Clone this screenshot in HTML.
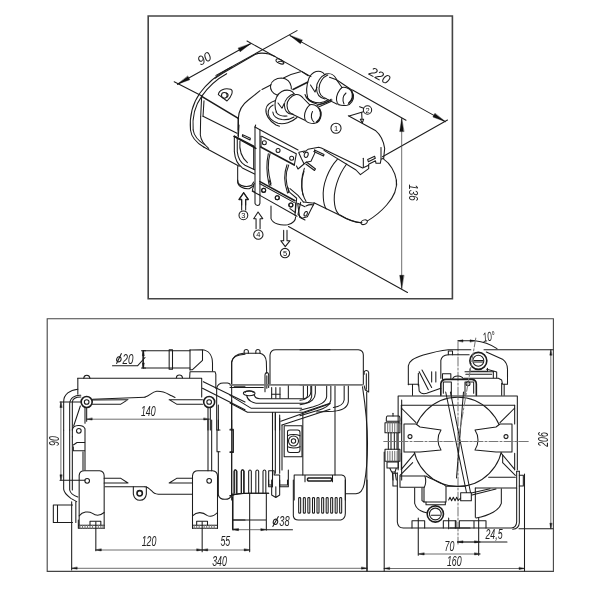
<!DOCTYPE html>
<html><head><meta charset="utf-8"><title>Heater dimensions</title>
<style>
html,body{margin:0;padding:0;background:#fff;}
body{width:600px;height:600px;overflow:hidden;font-family:"Liberation Sans",sans-serif;}
svg{display:block;filter:grayscale(1)}
svg path,svg line,svg circle,svg ellipse,svg rect,svg polyline{fill:none;stroke:#1c1c1c;stroke-width:1.05;vector-effect:non-scaling-stroke;stroke-linecap:round;stroke-linejoin:round}
svg .f{fill:#111;stroke:#111;stroke-width:.4}
svg .w{fill:#fff}
svg .k{fill:#222}
svg .g{stroke:#777}
svg .d{stroke:#4a4a4a;stroke-width:.8}
svg .h{stroke-width:1.6}
svg .t{font-family:"Liberation Sans",sans-serif;font-style:italic;fill:#222;stroke:none}
svg .n{font-family:"Liberation Sans",sans-serif;font-style:normal;fill:#111;stroke:none}
</style></head><body>
<svg width="600" height="600" viewBox="0 0 600 600">
<rect x="0" y="0" width="600" height="600" style="fill:#fff;stroke:none"/>

<rect x="148.2" y="16" width="304.2" height="282.8" style="stroke:#444;stroke-width:1.6;stroke-linejoin:miter"/>
<rect x="47.2" y="318.7" width="506.2" height="252.7" style="stroke:#444;stroke-width:1.1;stroke-linejoin:miter"/>

<path class="" d="M177.5,84.2 L250.5,43.8"/>
<path class="f" d="M177.5,84.2 L189.8,79.7 L187.9,76.2 Z"/>
<path class="f" d="M250.5,43.8 L240.1,51.8 L238.2,48.3 Z"/>
<path d="M174.2,81.7 L202,96"/>
<path d="M247,41 L311,76.6"/>
<path d="M216,75.4 L297,30.6"/>
<text class="t" transform="translate(206.5,62.5) rotate(-29) scale(0.95,1)" font-size="13" text-anchor="middle">90</text>
<g transform="translate(160,30) scale(0.166667)">

<path d="M183,600 C176,520 196,440 240,378 C282,322 340,272 398,240 L430,222"/>
<path d="M199,600 C192,525 210,452 252,395 C292,338 348,290 400,262"/>
<path d="M330,290 C360,268 400,245 420,234 L570,147 C590,138 620,136 654,144 L690,159"/>
<path class="h" d="M250,398 L470,530"/>
<path d="M470,600 L470,530 C472,480 492,448 530,420 L600,364"/>
<path d="M250,398 L244,520"/>
<path d="M264,425 L258,518"/>
<path d="M350,388 C352,362 388,345 424,356 C442,364 432,396 402,426 Z"/>
<circle cx="386" cy="392" r="17"/>
<path d="M398,378 C410,380 412,395 404,402"/>

</g>
<g transform="translate(262,65) scale(0.100000)">

<path d="M150,300 C105,285 80,245 85,205 C92,160 140,130 195,130 C250,132 285,170 292,215 L293,240"/>
<path d="M215,130 C270,100 330,80 385,68"/>
<path d="M0,245 L92,198"/>
<path class="h" d="M310,245 L455,172"/>
<path d="M145,470 C125,430 125,365 145,322 C165,275 220,240 280,255 C300,262 315,275 322,290"/>
<path d="M160,380 L200,432 L222,385"/>
<path d="M322,288 C270,300 222,350 224,402 C226,450 252,488 300,492"/>
<path d="M338,296 C290,308 248,355 250,404 C252,448 272,480 312,492"/>
<path d="M338,296 C370,290 395,310 415,335 L478,398"/>
<path d="M305,492 L428,553"/>
<path d="M478,398 C450,420 425,470 425,510 C425,540 430,550 440,560"/>
<path d="M478,398 C530,385 585,430 590,490 C592,545 560,585 520,585 C485,585 455,575 440,560"/>
<path class="h" d="M575,440 C600,480 590,540 545,572"/>
<path d="M505,465 C485,500 490,545 520,572"/>
<path d="M135,355 C90,370 45,400 40,440 C32,490 70,560 140,600 L175,612"/>
<path d="M112,400 C80,415 58,445 62,490 C70,530 110,565 160,582 C220,598 300,570 350,525"/>
<path d="M108,470 C110,510 150,540 200,546 C250,550 290,540 320,520"/>
<path d="M140,470 C160,500 200,515 250,510"/>

</g>
<g transform="translate(302,60) scale(0.100000)">

<path d="M0,118 L62,158"/>
<path d="M110,420 C80,410 65,400 58,380 C42,330 45,250 70,180 C90,130 140,105 185,115 C205,120 220,135 228,148"/>
<path d="M85,250 L130,320 L150,272"/>
<path d="M240,140 C190,160 145,220 145,280 C145,340 180,380 230,390"/>
<path d="M258,150 C210,170 170,225 170,285 C170,335 195,370 240,385"/>
<path d="M240,140 C280,128 322,150 345,192"/>
<path d="M275,172 L345,198 L400,275"/>
<path d="M345,198 L498,300"/>
<path d="M240,386 L352,442"/>
<path d="M400,275 C365,300 340,360 345,400 C348,425 355,440 370,448"/>
<path d="M400,275 C450,265 505,300 515,350 C520,400 490,445 450,452 C420,456 390,455 370,448"/>
<path class="h" d="M495,310 C518,350 505,402 468,432"/>
<path d="M440,330 C410,355 400,400 420,440"/>
<path d="M30,345 C40,385 80,420 150,440 C200,448 255,425 292,392"/>
<path d="M45,370 C70,410 130,430 180,428 C215,425 245,410 262,398"/>
<path d="M150,455 L300,400"/>
<path d="M165,470 L290,415"/>

</g>
<path class="" d="M290.0,35.6 L445.2,121.6"/>
<path class="f" d="M290.0,35.6 L300.4,43.7 L302.3,40.2 Z"/>
<path class="f" d="M445.2,121.6 L432.9,117.0 L434.8,113.5 Z"/>
<text class="t" transform="translate(377.5,79.5) rotate(29) scale(1.0,1)" font-size="13" text-anchor="middle">220</text>
<path d="M447.5,120 L382.5,156.7"/>
<path d="M352.5,90 L406,120.2"/>
<path class="d" d="M401.7,118.6 L401.7,288.3"/>
<path class="f" d="M401.7,118.6 L399.7,131.6 L403.7,131.6 Z"/>
<path class="f" d="M401.7,288.3 L399.7,275.3 L403.7,275.3 Z"/>
<text class="t" transform="translate(408.5,192.5) rotate(90) scale(0.76,1)" font-size="13" text-anchor="middle">136</text>
<path d="M288.5,226.5 L407.5,292.5"/>
<ellipse cx="280" cy="61.5" rx="4.3" ry="2" transform="rotate(25 280 61.5)"/>
<path d="M277.5,62.5 C279,60.5 282,61 283.5,62.5"/>
<g transform="translate(340,85) scale(0.166667)">

<circle cx="165" cy="150" r="25"/>
<path d="M55,186 L140,160"/>
<path d="M118,130 L142,140"/>
<path d="M130,165 L132,205 M122,205 L142,205 L134,228 Z"/>
<path d="M50,185 L215,275 C245,300 262,340 268,380 L262,440"/>
<path d="M262,440 L246,446 L242,470 L216,470 L213,455 L172,476 L172,500"/>
<path d="M140,440 L140,492"/>
<path d="M246,375 L246,442"/>
<path d="M166,447 L208,428 L212,440 L170,460 Z"/>
<path d="M262,445 C300,470 330,520 338,570 L340,600"/>

</g>
<text class="n" x="367.5" y="112.6" font-size="7.5" text-anchor="middle">2</text>
<g transform="translate(340,130) scale(0.166667)">

<path d="M338,300 C345,350 325,400 280,450 C245,490 205,522 165,545"/>
<ellipse cx="145" cy="553" rx="20" ry="13" transform="rotate(-20 145 553)"/>
<path d="M125,556 C80,555 40,535 0,510"/>

</g>
<g transform="translate(160,100) scale(0.166667)">

<path d="M183,180 C188,225 222,258 262,282"/>
<path d="M199,180 C204,215 232,246 268,268"/>
<path d="M244,100 L242,210 C245,240 262,265 292,290"/>
<path d="M262,282 L475,398"/>
<path d="M258,98 L462,200"/>
<path d="M470,110 L468,215"/>
<path class="h" d="M445,218 L575,290"/>
<path d="M470,180 L470,110"/>

</g>
<g transform="translate(225,125) scale(0.133333)">

<path d="M225,15 L225,505 L205,490 L215,455"/>
<path d="M262,35 L262,522"/>
<path d="M225,15 L262,35 L335,75 L548,188"/>
<path d="M275,85 L535,215 L520,300"/>
<path class="h" d="M268,165 L520,300"/>
<path d="M270,85 L270,165"/>
<circle cx="295" cy="133" r="15"/><circle cx="398" cy="192" r="15"/><circle cx="500" cy="250" r="15"/>
<path class="h" d="M262,425 L525,568"/>
<path d="M262,440 L520,582"/>
<circle cx="290" cy="490" r="15"/><circle cx="392" cy="545" r="15"/><circle cx="495" cy="600" r="15"/>
<path d="M338,215 C318,280 322,360 345,440 L332,452"/>
<path d="M325,215 C308,290 312,370 330,445"/>
<path d="M478,300 C448,370 455,440 482,500 L468,510"/>
<path d="M465,298 C438,370 445,440 468,505"/>
<path d="M595,325 C568,400 572,470 585,525"/>
<path class="h" d="M70,85 L215,160"/>
<path d="M70,85 L70,200 C75,262 100,300 130,322 L222,368"/>
<path d="M92,100 L92,200 C98,252 120,285 150,302 L222,335"/>
<path d="M112,120 C106,180 122,242 168,282"/>
<path d="M215,160 L215,330"/>
<path d="M95,312 L95,430 C100,462 140,482 182,478 C200,470 215,455 220,438"/>
<path d="M132,72 L190,100 L188,112 L130,84 Z"/>
<path d="M140,510 L105,560 L125,560 L125,600 M140,510 L175,560 L155,560 L155,600"/>
<path d="M105,0 L100,90"/>
<path d="M230,0 L225,15"/>

</g>
<g transform="translate(290,100) scale(0.133333)">

<circle cx="345" cy="212" r="38"/>
<path d="M100,395 L135,370 L215,355 L235,360 L545,510 L590,490"/>
<path d="M255,378 L495,525 L528,560 L590,515"/>

</g>
<text class="n" x="336" y="131" font-size="7.5" text-anchor="middle">1</text>
<g transform="translate(290,150) scale(0.133333)">

<path d="M355,70 C290,140 240,260 250,360 C252,400 260,425 272,442"/>
<path d="M425,105 C360,190 320,310 335,410 C340,445 352,470 368,485"/>
<path d="M105,160 C80,230 80,320 120,385"/>
<path d="M180,395 L370,487 C420,515 480,540 540,546"/>
<path d="M100,390 L182,400 L160,440 L130,500 L90,512 L60,482 L80,392"/>
<ellipse cx="118" cy="478" rx="11" ry="18" transform="rotate(25 118 478)"/>
<path d="M0,290 L60,340 L100,390 M0,320 L50,362 L40,470 L0,440"/>
<path d="M120,420 C140,410 160,408 175,412"/>

</g>
<g transform="translate(225,180) scale(0.133333)">

<path d="M140,95 L105,145 L125,145 L125,225 M140,95 L175,145 L155,145 L155,225"/>
<circle cx="138" cy="265" r="33"/>
<path d="M248,240 L215,290 L233,290 L233,365 M248,240 L283,290 L263,290 L263,365"/>
<circle cx="250" cy="410" r="35"/>
<path d="M440,378 L440,455 L418,455 L452,500 L488,455 L465,455 L465,378"/>
<circle cx="450" cy="548" r="35"/>
<path d="M225,95 L225,175 C232,196 258,196 262,175 L262,110"/>
<path d="M205,85 L262,115 L540,272"/>
<circle cx="290" cy="78" r="15"/><circle cx="392" cy="133" r="15"/><circle cx="493" cy="188" r="15"/>
<path d="M530,170 L525,265"/>
<path d="M345,195 L345,290 C360,330 420,342 470,335 C510,325 530,300 530,275"/>
<path d="M545,175 L600,200 M560,280 L600,300 M545,175 L560,280"/>
<path d="M95,0 L100,25 C120,50 170,56 200,40 L215,15"/>
<path d="M330,0 L345,40 M470,55 L480,95"/>

</g>
<text class="n" x="243.4" y="218" font-size="7.5" text-anchor="middle">3</text>
<text class="n" x="258.3" y="237.4" font-size="7.5" text-anchor="middle">4</text>
<text class="n" x="285" y="255.8" font-size="7.5" text-anchor="middle">5</text>
<g transform="translate(280,135) scale(0.100000)">

<path d="M188,178 L215,238 L240,288 L262,272 L310,262 L350,176 L345,150"/>
<path d="M165,310 L180,340 L240,290"/>
<ellipse cx="262" cy="198" rx="19" ry="27" transform="rotate(20 262 198)"/>
<path d="M345,150 L440,195 L435,210 L338,166"/>
<path d="M265,270 L355,340 L345,355 L258,290"/>
<path d="M190,172 L245,160"/>

</g>
<g transform="translate(45,330) scale(0.166667)">

<path d="M197,290 L197,385 M232,290 C235,266 266,266 270,290"/>
<circle class="h" cx="250" cy="432" r="33"/><circle cx="250" cy="432" r="14"/>
<path d="M197,355 C150,360 112,385 112,430 L112,600"/>
<path d="M215,392 C180,390 150,406 148,442 L148,600"/>
<path d="M164,600 L164,432 C166,412 190,402 215,402"/>
<path d="M90,432 L215,432"/>
<path d="M285,415 L600,404"/>
<path d="M285,445 L455,445 L498,418 L285,420"/>
<path d="M250,465 L250,548"/>
<path d="M212,456 L172,576 M240,465 L240,560"/>
<path d="M405,215 L555,215 L600,165"/>

</g>
<text class="t" transform="translate(128.0,363.6) rotate(0) scale(0.7,1)" font-size="14" text-anchor="middle">20</text>
<ellipse cx="118.9" cy="359.3" rx="2.2" ry="2.6" transform="rotate(18 118.9 359.3)"/><path d="M116.6,363.4 L121.4,353.6"/>
<path class="" d="M143.3,350.8 L143.3,368.0"/>
<path class="f" d="M143.3,350.8 L142.4,355.8 L144.2,355.8 Z"/>
<path class="f" d="M143.3,368.0 L142.4,363.0 L144.2,363.0 Z"/>
<path d="M141.5,350.8 L145.5,350.8 M141.5,368 L145.5,368"/>
<path d="M77.8,378.3 L201.7,378.3 L201.7,397"/>
<g transform="translate(45,420) scale(0.166667)">

<circle cx="203" cy="65" r="14"/>
<path d="M164,100 L164,58 C170,28 226,24 240,52 L240,300"/>
<path d="M170,150 L192,135 L238,135 M170,160 L170,185 L238,185"/>
<path d="M112,60 L112,415 C114,440 135,455 155,470 L190,490"/>
<path d="M148,60 L148,420 C152,440 170,452 197,462"/>
<path d="M164,100 L164,420 M228,190 L228,300"/>
<circle cx="253" cy="365" r="14"/>
<path d="M205,650 L205,332 C207,312 220,305 236,305 L328,305 C345,307 355,318 355,336 L355,650"/>
<path d="M355,350 L455,350 L498,378 L355,378"/>
<path d="M360,400 L600,400"/>
<path d="M90,362 L240,362"/>
<circle class="h" cx="568" cy="440" r="16"/>
<path d="M530,400 L530,445 C535,470 552,482 570,482 C590,482 605,468 608,445 L608,400"/>

</g>
<path class="d" d="M60.9,402.0 L60.9,480.3"/>
<path class="f" d="M60.9,402.0 L59.9,407.5 L61.9,407.5 Z"/>
<path class="f" d="M60.9,480.3 L59.9,474.8 L61.9,474.8 Z"/>
<text class="t" transform="translate(59.0,441.0) rotate(-90) scale(0.63,1)" font-size="14" text-anchor="middle">90</text>
<g transform="translate(45,480) scale(0.166667)">

<path d="M50,150 L165,150 M50,255 L165,255 M50,150 L50,255 M75,150 L75,255"/>
<path d="M200,290 L355,290 M200,272 L355,272 M200,240 L200,290"/>
<path class="g" d="M210,272 L210,290 M225,272 L225,290 M240,272 L240,290 M255,272 L255,290 M270,272 L270,290 M285,272 L285,290 M320,272 L320,290 M335,272 L335,290 M348,272 L348,290"/>
<path d="M270,270 L270,248 L335,248 L335,270"/>
<path d="M205,215 C225,190 260,185 285,200 C305,215 330,215 355,195"/>
<path d="M305,250 L305,425"/>
<path d="M160,130 L160,540 M185,130 L185,255"/>

</g>
<g transform="translate(145,330) scale(0.166667)">

<path d="M-12,125 L270,125 M-12,228 L270,228 M-12,125 L-12,228"/>
<path d="M145,118 L145,236 L165,236 L165,118 Z"/>
<path d="M270,118 L270,240"/>
<path d="M270,120 L340,118 C380,120 405,150 405,200 L405,246"/>
<path d="M345,120 L345,182 L285,238 L270,238"/>
<path d="M270,250 L420,250 L425,265 L425,350 M270,250 L268,287"/>
<path d="M188,287 C190,265 222,265 225,287"/>
<path d="M0,402 C30,395 40,372 70,368 C110,365 130,380 160,395 L180,405"/>
<path d="M145,418 L345,418 M345,445 L190,445 L145,418"/>
<circle class="h" cx="385" cy="432" r="33"/><circle cx="385" cy="432" r="14"/>
<path d="M350,310 L600,432 M345,350 L600,478"/>
<path d="M378,465 L378,600 M392,465 L392,600"/>
<path d="M430,600 L430,350 C435,325 450,318 470,318 L495,318 C510,320 518,330 520,345 L520,600"/>
<path d="M520,335 L520,190 C525,160 550,148 600,145"/>
<path d="M535,340 L600,340 M520,328 L600,328"/>
<path d="M440,450 L440,600"/>

</g>
<path class="d" d="M86.7,419.2 L209.2,419.2"/>
<path class="f" d="M86.7,419.2 L92.2,420.1 L92.2,418.2 Z"/>
<path class="f" d="M209.2,419.2 L203.7,420.1 L203.7,418.2 Z"/>
<text class="t" transform="translate(148.3,415.8) rotate(0) scale(0.63,1)" font-size="14" text-anchor="middle">140</text>
<g transform="translate(145,420) scale(0.166667)">

<path d="M378,0 L378,305 M400,0 L400,305"/>
<path d="M285,650 L285,335 C287,315 300,305 318,305 L405,305 C425,307 435,318 435,338 L435,650"/>
<circle cx="385" cy="365" r="14"/>
<path d="M285,350 L190,350 L145,378 L285,378"/>
<path d="M0,400 C15,400 25,410 40,425 C50,440 60,445 80,445 L285,445"/>
<path d="M440,0 L440,60 M440,190 L440,450 M520,0 L520,60 M520,190 L520,450"/>
<path d="M450,60 L432,60 L432,190 L450,190 M510,60 L528,60 L528,190 L510,190"/>
<path d="M440,450 C445,470 460,476 480,476 C500,476 515,466 520,450 L545,445 L600,440"/>
<path d="M535,440 L535,305 C538,296 546,296 548,305 L548,440"/>
<path d="M578,440 L578,305 C581,296 589,296 592,305 L592,440"/>

</g>
<g transform="translate(145,480) scale(0.166667)">

<path d="M285,290 L435,290 M285,272 L435,272"/>
<path class="g" d="M295,272 L295,290 M310,272 L310,290 M325,272 L325,290 M355,272 L355,290 M370,272 L370,290 M385,272 L385,290 M400,272 L400,290 M415,272 L415,290"/>
<path d="M310,270 L310,248 L375,248 L375,270"/>
<path d="M285,215 C310,190 345,190 372,212 C395,225 415,215 435,195"/>
<path d="M343,250 L343,430"/>
<path d="M525,100 L525,295 L560,295 M525,240 L600,240"/>

</g>
<path class="d" d="M95.8,550.0 L202.2,550.0"/>
<path class="f" d="M95.8,550.0 L101.3,551.0 L101.3,549.0 Z"/>
<path class="f" d="M202.2,550.0 L196.7,551.0 L196.7,549.0 Z"/>
<path class="d" d="M202.2,550.0 L249.7,550.0"/>
<path class="f" d="M202.2,550.0 L207.7,551.0 L207.7,549.0 Z"/>
<path class="f" d="M249.7,550.0 L244.2,551.0 L244.2,549.0 Z"/>
<text class="t" transform="translate(149.0,546.3) rotate(0) scale(0.63,1)" font-size="14" text-anchor="middle">120</text>
<text class="t" transform="translate(225.3,546.3) rotate(0) scale(0.63,1)" font-size="14" text-anchor="middle">55</text>
<path class="d" d="M71.7,568.3 L367.0,568.3"/>
<path class="f" d="M71.7,568.3 L77.2,569.2 L77.2,567.3 Z"/>
<path class="f" d="M367.0,568.3 L361.5,569.2 L361.5,567.3 Z"/>
<text class="t" transform="translate(219.5,566.0) rotate(0) scale(0.63,1)" font-size="14" text-anchor="middle">340</text>
<g transform="translate(230,330) scale(0.166667)">

<path d="M10,335 L10,195 C15,160 35,145 80,140 L180,140 C205,145 215,160 218,190 L220,260"/>
<path d="M85,140 L85,125 C88,115 107,115 110,125 L110,140 M155,140 L155,125 C158,115 177,115 180,125 L180,140"/>
<path d="M240,325 L240,150 C242,128 255,118 275,118 L600,118"/>
<path d="M210,370 L210,270 C212,250 230,250 232,270 L232,345 M221,275 L221,350"/>
<path class="h g" d="M0,329 L600,329"/>
<path d="M0,345 L200,345"/>
<ellipse cx="115" cy="380" rx="35" ry="14"/>
<path d="M90,375 C95,362 135,362 140,375"/>
<path d="M100,392 C105,425 140,440 170,440 L450,440 C485,438 512,410 512,380 L512,335"/>
<path d="M145,388 C148,405 160,412 180,412 L440,412 C465,410 485,395 485,370 L485,335"/>
<path d="M0,392 L128,470 L430,470 M0,438 L105,494 L440,494 L600,440"/>
<path d="M255,495 L255,600 M272,495 L272,600 M298,510 L298,600"/>
<path d="M305,548 L600,442 M312,570 L600,475"/>
<path d="M250,345 L250,410 M275,345 L275,410 M300,345 L300,410 M350,335 L350,410 M440,335 L440,410"/>
<path d="M250,385 L300,385"/>

</g>
<g transform="translate(300,330) scale(0.166667)">

<path d="M0,118 L350,118 C370,120 380,130 380,150 L380,325"/>
<path d="M385,265 L385,252 C390,240 410,240 412,255 L412,372 L392,360 L385,335"/>
<path d="M398,262 L398,355"/>
<path d="M70,335 L70,400 C65,430 40,445 0,448 M45,335 L45,395 C40,410 25,420 0,422"/>
<path d="M185,335 L185,420 C180,455 150,470 100,485 L0,515 M160,335 L160,400 C155,435 120,448 80,460 L0,482"/>
<path d="M290,335 L290,430 C285,470 250,482 200,488 L100,492 M265,335 L265,420 C260,450 235,460 200,465"/>
<path d="M210,335 L210,870"/>
<path class="h g" d="M0,329 L375,329"/>

</g>
<g transform="translate(230,400) scale(0.166667)">

<path d="M255,75 L255,520 M272,80 L272,440 M298,110 L298,440 M312,150 L312,420"/>
<path d="M325,155 L432,155 L432,340 L325,340 Z"/>
<path d="M345,190 C345,182 352,180 360,180 L405,180 C415,180 420,185 420,195 L420,300 C420,310 415,315 405,315 L360,315 C350,315 345,310 345,300 Z"/>
<circle cx="381" cy="246" r="30"/><circle cx="381" cy="246" r="13"/>
<path d="M345,215 C360,205 400,205 420,215 M345,280 C360,290 400,290 420,280"/>
<path d="M437,75 L437,450"/>
<path d="M385,600 L385,450 L670,450 C685,452 692,460 692,475 L692,600 M450,455 L450,490 M615,455 L615,490"/>
<path class="h" d="M470,468 L605,468 C612,470 612,484 605,486 L470,486 C463,484 463,470 470,468 Z"/>
<path d="M25,560 L25,428 C27,418 40,418 42,428 L42,560"/>
<path d="M68,560 L68,428 C70,418 83,418 85,428 L85,560"/>
<path d="M112,560 L112,428 C114,418 126,418 128,428 L128,560"/>
<path d="M155,560 L155,428 C157,418 170,418 172,428 L172,560"/>
<path d="M198,560 L198,428 C200,418 213,418 215,428 L215,560"/>
<path d="M0,575 C40,562 80,560 120,560 L232,560"/>
<path d="M255,520 L232,520 L232,425 L265,425 L265,450 L298,450 L298,520 M350,420 L350,520 L300,520"/>
<path d="M10,0 L10,600 M0,175 L20,175 L20,315 L0,315"/>

</g>
<g transform="translate(230,480) scale(0.166667)">

<path d="M18,80 L18,300 M218,80 L218,300 M118,80 L118,430 M18,240 L218,240"/>
<path d="M0,95 C30,82 60,80 100,80 L232,80"/>
<path d="M218,298 L375,298"/>
<path d="M380,0 L380,215 C382,232 395,240 410,240 L665,240 C685,235 692,220 692,200 L692,0"/>
<path d="M250,0 L250,90 L275,105 L298,90 L298,0 M232,0 L232,30 L250,30 M345,0 L345,30 L300,30 M275,40 L275,100"/>
<path d="M822,0 L822,545"/>
<path d="M412,110 C412,104 424,104 424,110 L424,195 C424,201 412,201 412,195 Z"/><path d="M440,110 C440,104 452,104 452,110 L452,195 C452,201 440,201 440,195 Z"/><path d="M467,110 C467,104 479,104 479,110 L479,195 C479,201 467,201 467,195 Z"/><path d="M495,110 C495,104 507,104 507,110 L507,195 C507,201 495,201 495,195 Z"/><path d="M522,110 C522,104 534,104 534,110 L534,195 C534,201 522,201 522,195 Z"/><path d="M550,110 C550,104 562,104 562,110 L562,195 C562,201 550,201 550,195 Z"/><path d="M577,110 C577,104 589,104 589,110 L589,195 C589,201 577,201 577,195 Z"/><path d="M604,110 C604,104 616,104 616,110 L616,195 C616,201 604,201 604,195 Z"/><path d="M631,110 C631,104 643,104 643,110 L643,195 C643,201 631,201 631,195 Z"/><path d="M658,110 C658,104 670,104 670,110 L670,195 C670,201 658,201 658,195 Z"/>
</g>
<path class="d" d="M233.0,529.7 L266.3,529.7"/>
<path class="f" d="M233.0,529.7 L238.5,530.7 L238.5,528.8 Z"/>
<path class="f" d="M266.3,529.7 L260.8,530.7 L260.8,528.8 Z"/>
<text class="t" transform="translate(284.5,526.2) rotate(0) scale(0.66,1)" font-size="14" text-anchor="middle">38</text>
<ellipse cx="275.5" cy="521.8" rx="2.2" ry="2.7" transform="rotate(18 275.5 521.8)"/><path d="M272.8,526.4 L278.4,516.6"/>
<path d="M362.5,386.7 C364.5,400 367.5,425 367.5,443 C367.5,460 366,475 364.2,484.2 C363,490 360,493.5 356,493.7 L345.5,493.7"/>
<g transform="translate(380,320) scale(0.266667)">

<path d="M68,285 L515,285 M68,285 L68,562 M515,285 L515,562 M80,320 L505,320"/>

<path d="M80,320 L80,390 M505,320 L505,390 M80,500 L80,562 M505,500 L505,562"/>
<path d="M80,330 L135,385 M505,330 L450,385 M80,560 L130,500 M505,560 L455,500"/>

</g>
<path class="g" stroke-dasharray="9 2 2 2" d="M458,342 L458,544"/>
<path class="g" stroke-dasharray="9 2 2 2" d="M384,441.5 L528,441.5"/>
<text class="t" transform="translate(489.5,341.0) rotate(-10) scale(0.63,1)" font-size="13" text-anchor="middle">10°</text>
<path d="M484,349.7 L553,349.7"/>
<path d="M519,528.7 L553,528.7"/>
<path class="d" d="M550.8,349.7 L550.8,528.7"/>
<path class="f" d="M550.8,349.7 L549.8,355.2 L551.8,355.2 Z"/>
<path class="f" d="M550.8,528.7 L549.8,523.2 L551.8,523.2 Z"/>
<text class="t" transform="translate(548.0,439.5) rotate(-90) scale(0.63,1)" font-size="14" text-anchor="middle">206</text>
<circle cx="457.8" cy="441.8" r="44.6"/>
<g transform="translate(390,450) scale(0.133333)">

<path d="M55,170 L55,540 C58,570 75,585 100,585 L600,585"/>
<path d="M22,175 L22,270 L52,270 M22,175 L52,175"/>
<path d="M75,195 L262,195 M75,280 L255,280 M75,195 L75,280"/>
<path d="M75,190 L170,95"/>
<path d="M262,195 C270,220 268,260 255,285 L255,390 L420,390 L420,275"/>
<path d="M270,195 C320,225 385,240 420,272 L560,272"/>
<path d="M185,285 L185,400 C195,440 230,462 275,470 M240,285 L240,380 L255,390"/>
<path d="M270,390 L270,410 L415,410 L415,390"/>
<circle class="h" cx="340" cy="480" r="61"/><circle cx="340" cy="480" r="44"/>
<path d="M310,490 L375,490"/>
<path d="M440,375 L450,355 L462,380 L475,355 L488,380 L500,355 L512,378 L530,360"/>
<path d="M530,320 L610,320 L610,380 L530,380 Z"/>
<path d="M165,585 L165,530 L260,530 L260,585 M400,585 L400,530 L495,530 L495,585"/>
<path d="M212,510 L212,790 M440,510 L440,590"/>

</g>
<g transform="translate(450,450) scale(0.133333)">

<path d="M290,205 L490,205 M190,285 L500,285"/>
<path d="M500,160 L500,540 C498,565 485,583 460,585 L0,585 M520,160 L520,545 C518,575 500,592 470,594"/>
<path d="M500,160 L520,160"/>
<path d="M520,190 L550,190 L550,270 L520,270"/>
<path d="M395,95 L490,190 M395,95 L395,40"/>
<path d="M190,285 L190,505 M385,290 L385,400 C370,450 300,492 195,510"/>
<path d="M165,338 L345,292 M160,322 L300,290"/>
<path d="M70,585 L70,530 L270,530 L270,585 M40,530 L40,585 M180,530 L180,585"/>
<path d="M215,510 L215,790"/>

</g>
<path class="d" d="M418.7,554.0 L480.0,554.0"/>
<path class="f" d="M418.7,554.0 L424.2,555.0 L424.2,553.0 Z"/>
<path class="f" d="M480.0,554.0 L474.5,555.0 L474.5,553.0 Z"/>
<text class="t" transform="translate(449.5,551.0) rotate(0) scale(0.63,1)" font-size="14" text-anchor="middle">70</text>
<path d="M457.5,542 L507,542"/>
<path class="d" d="M457.5,542.0 L480.0,542.0"/>
<path class="f" d="M457.5,542.0 L463.0,543.0 L463.0,541.0 Z"/>
<path class="f" d="M480.0,542.0 L474.5,543.0 L474.5,541.0 Z"/>
<text class="t" transform="translate(494.0,538.5) rotate(0) scale(0.63,1)" font-size="14" text-anchor="middle">24,5</text>
<path class="d" d="M384.2,568.5 L524.5,568.5"/>
<path class="f" d="M384.2,568.5 L389.7,569.5 L389.7,567.5 Z"/>
<path class="f" d="M524.5,568.5 L519.0,569.5 L519.0,567.5 Z"/>
<text class="t" transform="translate(454.3,565.6) rotate(0) scale(0.63,1)" font-size="14" text-anchor="middle">160</text>
<path d="M384.2,452 L384.2,571 M524.5,474 L524.5,571 M366.7,392 L367,571"/>
<path class="w" d="M404,424 L416,424 L420,427 L441,430 C437,436 437,444 441,450 L420,452 L404,452 Z"/>
<path class="w" d="M512,424 L500,424 L496,427 L475,430 C479,436 479,444 475,450 L496,452 L512,452 Z"/>
<circle cx="410" cy="436.6" r="2"/><circle cx="506" cy="436.6" r="2"/>
<g transform="translate(375,400) scale(0.133333)">

<path d="M92,120 L180,120 C186,122 187,130 187,140 L187,160 L85,160 L85,135 C86,125 88,121 92,120 Z"/>
<path d="M135,100 L135,120"/>
<path d="M75,170 L187,170 L187,245 L75,245 Z"/>
<path class="g" d="M95,170 L95,245 M112,170 L112,245 M130,170 L130,245 M148,170 L148,245 M166,170 L166,245"/>
<path d="M100,245 L100,370 M165,245 L165,370 M120,245 L120,370 M145,245 L145,370"/>
<path d="M75,370 L187,370 L187,460 L75,460 Z"/>
<path class="g" d="M95,385 L95,460 M112,385 L112,460 M130,385 L130,460 M148,385 L148,460 M166,385 L166,460"/>
<path d="M90,465 L175,465 L175,510 L90,510 Z M110,510 L125,540 L150,540 L160,510"/>
<path d="M130,540 L135,600 M150,540 L160,600"/>
<path d="M200,0 L200,600"/>

</g>
<g transform="translate(420,330) scale(0.166667)">

<path d="M-70,328 L-70,215 C-65,185 -40,170 20,150 C80,132 130,122 170,118 L305,118"/>
<path d="M-70,326 L-8,326 L-5,366 C5,382 20,386 40,380 L125,350 M-45,326 L-45,392"/>
<path d="M398,132 L495,175 C515,190 525,210 525,235 L525,325 L495,325 L490,300 L470,290 L265,290"/>
<path d="M490,320 L490,392 M505,325 L505,392"/>
<path d="M125,290 L125,182 C128,160 145,150 170,148 L295,148"/>
<path d="M170,148 L170,126 L195,126 L195,148"/>
<circle class="h" cx="350" cy="185" r="51"/><circle cx="350" cy="185" r="33"/>
<path d="M324,183 L378,183 M324,192 L378,192"/>
<path d="M300,232 L300,248 L405,248 L405,230"/>
<path d="M400,236 L440,246 L440,286 M460,286 L460,252 L440,246"/>
<path d="M270,250 L440,250 M275,266 L430,266"/>
<path class="h" d="M125,392 L125,322 C128,302 140,296 156,296 L312,296 C330,298 338,308 338,324 L338,392"/>
<path d="M140,312 L188,312 M140,312 L140,380 M270,312 L322,312 L322,380 M188,312 L188,392 M270,312 L270,392"/>
<circle cx="288" cy="322" r="12"/>
<path d="M195,296 C200,270 250,268 262,296"/>
<path d="M135,296 L135,262 L185,262 L185,296"/>
<path d="M-5,250 L50,358 M12,240 L70,345 M70,250 L70,312 M95,250 L95,312 M-10,260 L-10,335"/>
<path d="M228,65 L330,65 C380,70 425,88 462,112"/>

</g>
<path class="f" d="M458,340.8 L463,339.8 L463,341.8 Z M475,340.8 L470,339.8 L470,341.8 Z"/>
<path d="M445.7,392 L466.5,492.5 M450.4,392 L470.5,492.5 M463.5,392 L456.5,478"/>
<path class="g" stroke-dasharray="9 2 2 2" d="M475.8,338 L458,441.5"/>
<path class="g" stroke-dasharray="9 2 2 2" d="M384,441.5 L528,441.5"/>
</svg>
</body></html>
